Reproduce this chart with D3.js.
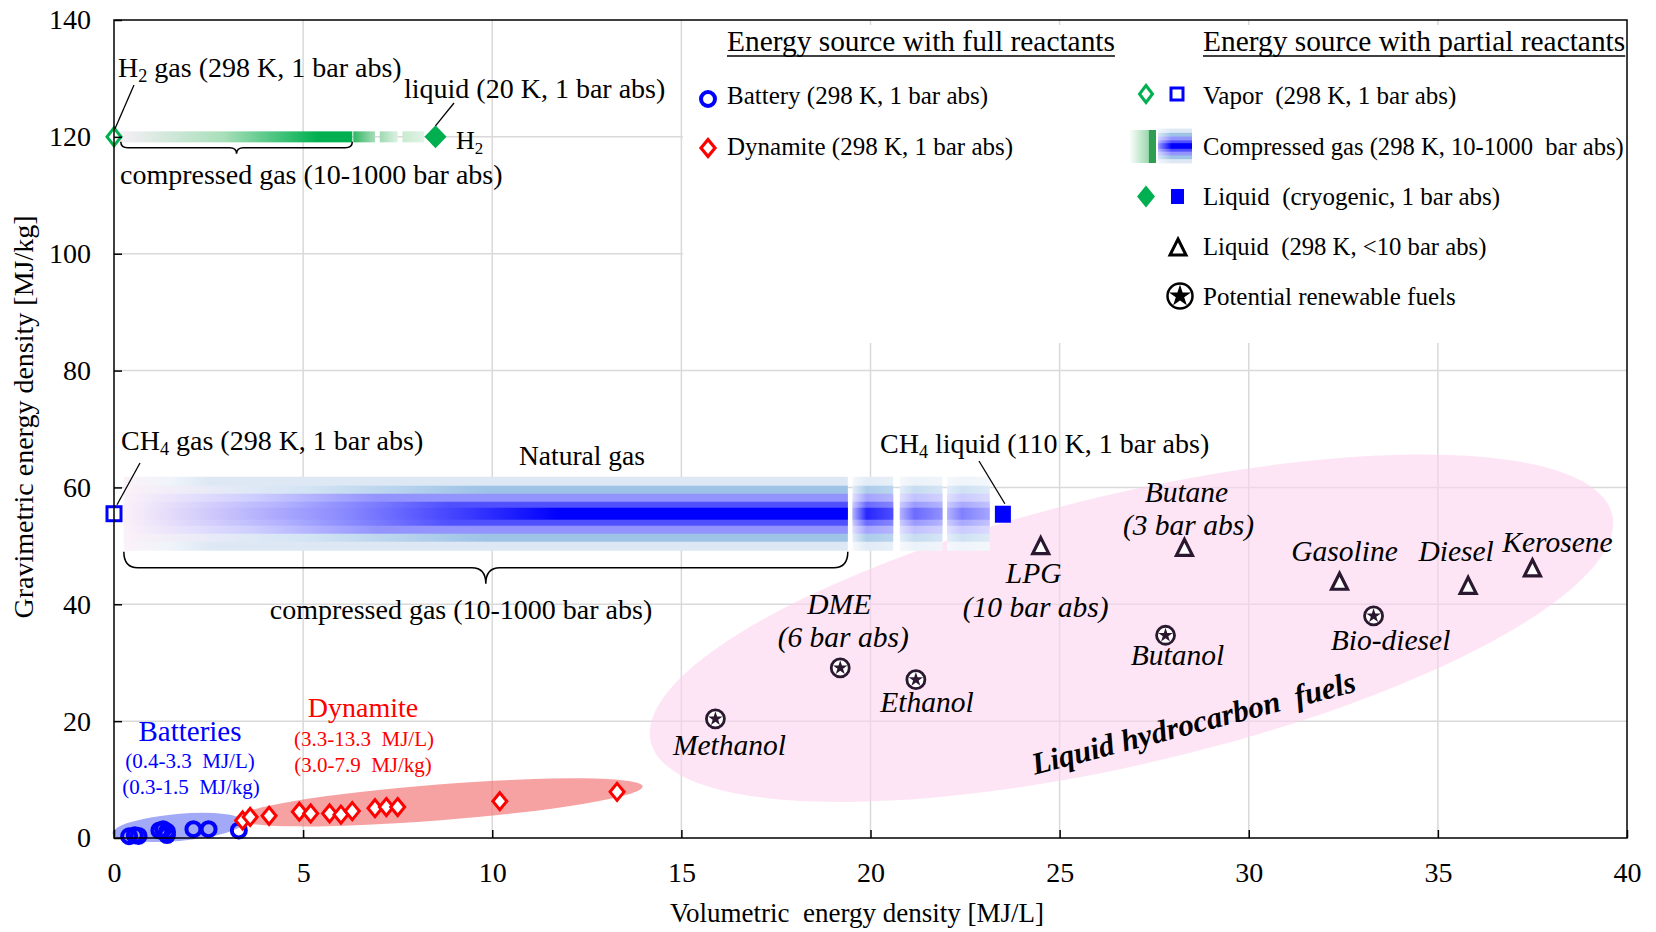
<!DOCTYPE html>
<html>
<head>
<meta charset="utf-8">
<script src="https://cdn.jsdelivr.net/npm/d3@7"></script>
<style>
  body { margin: 0; background: #fff; }
  svg text { font-family: "Liberation Serif", "Times New Roman", serif; white-space: pre; }
</style>
</head>
<body>
<svg width="1656" height="932"></svg>
<script>
// ---- data ----
const xTicks = [0, 5, 10, 15, 20, 25, 30, 35, 40];
const yTicks = [0, 20, 40, 60, 80, 100, 120, 140];

// batteries [MJ/L, MJ/kg]
const batteries = [[0.4, 0.3], [0.55, 0.45], [0.65, 0.35], [1.2, 1.3], [1.3, 1.5], [1.4, 1.1], [1.4, 0.5], [2.1, 1.5], [2.5, 1.5], [3.3, 1.3]];
// dynamite [MJ/L, MJ/kg]
const dynamite = [[3.4, 3.0], [3.6, 3.6], [4.1, 3.8], [4.9, 4.5], [5.2, 4.2], [5.7, 4.2], [6.0, 4.0], [6.3, 4.6], [6.9, 5.1], [7.2, 5.3], [7.5, 5.3], [10.2, 6.3], [13.3, 7.9]];

// liquids at 298 K (triangles)
const liquidNames = ['LPG', 'Butane', 'Gasoline', 'Diesel', 'Kerosene'];
const liquidX = [24.5, 28.3, 32.4, 35.8, 37.5];
const liquidY = [49.7, 49.4, 43.6, 42.9, 45.9];

// potential renewable fuels (circled stars)
const renewNames = ['Methanol', 'DME', 'Ethanol', 'Butanol', 'Bio-diesel'];
const renewX = [15.9, 19.2, 21.2, 27.8, 33.3];
const renewY = [20.4, 29.1, 27.1, 34.7, 38.0];

// hydrogen
const h2Vapor = [0, 120];
const h2Liquid = [8.5, 120];
const h2Compressed = [0.1, 6.3];
const h2Tail = [[6.3, 6.9], [7.0, 7.5], [7.6, 8.2]];

// methane
const ch4Vapor = [0, 55.5];
const ch4Liquid = [23.5, 55.5];
const ch4Compressed = [0.26, 19.4];
const ch4Tail = [[19.5, 20.6], [20.75, 21.9], [22.0, 23.15]];

function whenLoaded() {
const svg = d3.select('svg');
const defs = svg.append('defs');

const x = d3.scaleLinear().domain([0, 40]).range([114, 1627]);
const y = d3.scaleLinear().domain([0, 140]).range([838, 20]);

const GREEN = '#00b050', BLUE = '#0000ff', RED = '#ff0000', DARK = '#2a1830';

function grad(id, stops) {
  const g = defs.append('linearGradient').attr('id', id);
  stops.forEach(([o, c]) => g.append('stop').attr('offset', o).attr('stop-color', c));
  return `url(#${id})`;
}
const fade = (c, t) => d3.interpolateRgb(c, '#ffffff')(t);

// grid
const grid = svg.append('g').attr('stroke', '#d9d9d9').attr('stroke-width', 1.5);
grid.selectAll('.gx').data(xTicks.slice(1, -1)).enter().append('line')
  .attr('x1', d => x(d)).attr('x2', d => x(d)).attr('y1', y(140)).attr('y2', y(0));
grid.selectAll('.gy').data(yTicks.slice(1, -1)).enter().append('line')
  .attr('x1', x(0)).attr('x2', x(40)).attr('y1', d => y(d)).attr('y2', d => y(d));

// legend background
svg.append('rect').attr('x', 683).attr('y', 25).attr('width', 943).attr('height', 318).attr('fill', '#fff');

// clouds
svg.append('ellipse')
  .attr('transform', `translate(${x(26.9)},${y(35.9)}) rotate(-13.3)`)
  .attr('rx', 494).attr('ry', 135)
  .attr('fill', '#fcd3ee').attr('opacity', 0.6);
svg.append('ellipse')
  .attr('transform', `translate(${x(8.6)},${y(6.1)}) rotate(-4.5)`)
  .attr('rx', 204).attr('ry', 18)
  .attr('fill', '#f47a7a').attr('opacity', 0.7);
svg.append('ellipse')
  .attr('transform', `translate(${x(1.7)},${y(1.8)}) rotate(-5)`)
  .attr('rx', 66).attr('ry', 13.5)
  .attr('fill', '#7b84f2').attr('opacity', 0.7);

// ---- H2 bar ----
const h2y = y(h2Vapor[1]);
svg.append('rect')
  .attr('x', x(h2Compressed[0])).attr('width', x(h2Compressed[1]) - x(h2Compressed[0]))
  .attr('y', h2y - 5.5).attr('height', 11)
  .attr('fill', grad('h2main', [[0, '#f8f0f8'], [0.45, '#a8dfba'], [0.85, GREEN], [1, GREEN]]));
const h2TailCols = [['#30b865', '#a9dcb9'], ['#9fd9b2', '#dcf1e3'], ['#c9eacf', '#e2f3e7']];
h2Tail.forEach((s, i) => {
  svg.append('rect')
    .attr('x', x(s[0]) + 1).attr('width', x(s[1]) - x(s[0]) - 1)
    .attr('y', h2y - 5.5).attr('height', 11)
    .attr('fill', grad('h2t' + i, [[0, h2TailCols[i][0]], [1, h2TailCols[i][1]]]));
});

// ---- CH4 bar ----
const ch4y = y(ch4Vapor[1]);
const bands = [
  {h: 37, c: '#dde8f4', p: 0.12},
  {h: 28, c: '#9dc3e6', p: 0.5},
  {h: 20, c: '#9494ff', p: 0.35},
  {h: 12, c: '#5050ff', p: 0.45},
  {h: 6, c: BLUE, p: 0.6}
];
bands.forEach((b, j) => {
  svg.append('rect')
    .attr('x', x(ch4Compressed[0])).attr('width', x(ch4Compressed[1]) - x(ch4Compressed[0]))
    .attr('y', ch4y - b.h).attr('height', 2 * b.h)
    .attr('fill', grad('ch4b' + j, [[0, '#fbf1f9'], [b.p * 0.5, fade(b.c, 0.55)], [b.p, b.c], [1, b.c]]));
});
const tailFade = [0.15, 0.42, 0.5];
ch4Tail.forEach((s, i) => {
  bands.forEach((b, j) => {
    svg.append('rect')
      .attr('x', x(s[0]) + 1).attr('width', x(s[1]) - x(s[0]) - 1)
      .attr('y', ch4y - b.h).attr('height', 2 * b.h)
      .attr('fill', grad(`ch4t${i}_${j}`, [[0, fade(b.c, 0.7)], [0.35, fade(b.c, tailFade[i])], [1, fade(b.c, tailFade[i] + 0.15)]]));
  });
});

// braces
function brace(x1, x2, y0, h, q) {
  const xm = (x1 + x2) / 2;
  return `M${x1},${y0} Q${x1},${y0 + h} ${x1 + q},${y0 + h} L${xm - q},${y0 + h} Q${xm},${y0 + h} ${xm},${y0 + 2 * h}` +
    ` Q${xm},${y0 + h} ${xm + q},${y0 + h} L${x2 - q},${y0 + h} Q${x2},${y0 + h} ${x2},${y0}`;
}
svg.append('path').attr('d', brace(x(0.18), x(6.3), h2y + 5, 6, 7))
  .attr('fill', 'none').attr('stroke', '#000').attr('stroke-width', 1.5);
svg.append('path').attr('d', brace(x(0.26), x(19.4), ch4y + 38, 16, 14))
  .attr('fill', 'none').attr('stroke', '#000').attr('stroke-width', 1.5);

// ---- marker shapes ----
const diamond = (w, h) => `M0,${-h} L${w},0 L0,${h} L${-w},0 Z`;
const triangle = 'M0,-10 L8,6 L-8,6 Z';

function renewMarker(g, r, sw) {
  g.append('circle').attr('r', r).attr('fill', '#fff').attr('stroke', DARK).attr('stroke-width', sw);
  g.append('path').attr('d', d3.symbol().type(d3.symbolStar).size(r * r * 0.8)()).attr('fill', DARK);
}

// batteries
svg.append('g').selectAll('circle').data(batteries).enter().append('circle')
  .attr('cx', d => x(d[0])).attr('cy', d => y(d[1])).attr('r', 7)
  .attr('fill', 'none').attr('stroke', BLUE).attr('stroke-width', 4);

// dynamite
svg.append('g').selectAll('path').data(dynamite).enter().append('path')
  .attr('transform', d => `translate(${x(d[0])},${y(d[1])})`)
  .attr('d', diamond(7, 8.5))
  .attr('fill', '#fff').attr('stroke', RED).attr('stroke-width', 3);

// H2 markers
svg.append('path').attr('transform', `translate(${x(h2Vapor[0])},${y(h2Vapor[1])})`)
  .attr('d', diamond(7, 9)).attr('fill', '#fff').attr('stroke', GREEN).attr('stroke-width', 3);
svg.append('path').attr('transform', `translate(${x(h2Liquid[0])},${y(h2Liquid[1])})`)
  .attr('d', diamond(11, 11.5)).attr('fill', GREEN);

// CH4 markers
svg.append('rect').attr('x', x(ch4Vapor[0]) - 7).attr('y', y(ch4Vapor[1]) - 7).attr('width', 14).attr('height', 14)
  .attr('fill', '#fff').attr('stroke', BLUE).attr('stroke-width', 3);
svg.append('rect').attr('x', x(ch4Liquid[0]) - 8).attr('y', y(ch4Liquid[1]) - 8).attr('width', 16).attr('height', 17)
  .attr('fill', BLUE);

// liquid fuels
liquidNames.forEach((n, i) => {
  svg.append('path').attr('transform', `translate(${x(liquidX[i])},${y(liquidY[i])})`)
    .attr('d', triangle).attr('fill', '#fff').attr('stroke', DARK).attr('stroke-width', 3.2);
});
renewNames.forEach((n, i) => {
  renewMarker(svg.append('g').attr('transform', `translate(${x(renewX[i])},${y(renewY[i])})`), 9, 2.8);
});

// ---- text ----
function label(px, py, txt, opt = {}) {
  const t = svg.append('text').attr('x', px).attr('y', py)
    .attr('font-size', opt.size || 27)
    .attr('text-anchor', opt.anchor || 'start')
    .attr('fill', opt.color || '#000');
  if (opt.italic) t.attr('font-style', 'italic');
  if (opt.bold) t.attr('font-weight', 'bold');
  if (opt.sub) {
    t.append('tspan').text(txt[0]);
    t.append('tspan').attr('font-size', (opt.size || 27) * 0.65).attr('dy', 5).text(txt[1]);
    t.append('tspan').attr('dy', -5).text(txt[2]);
  } else t.text(txt);
  return t;
}

// H2 annotations
label(118, 77, ['H', '2', ' gas (298 K, 1 bar abs)'], {size: 28, sub: true});
label(404, 98, 'liquid (20 K, 1 bar abs)', {size: 28});
label(456, 149, ['H', '2', ''], {size: 26, sub: true});
label(120, 184, 'compressed gas (10-1000 bar abs)', {size: 28});
svg.append('line').attr('x1', 134).attr('y1', 85).attr('x2', x(h2Vapor[0]) + 1).attr('y2', y(h2Vapor[1]) - 8)
  .attr('stroke', '#000').attr('stroke-width', 1.3);
svg.append('line').attr('x1', 454).attr('y1', 103).attr('x2', x(h2Liquid[0])).attr('y2', y(h2Liquid[1]) - 11)
  .attr('stroke', '#000').attr('stroke-width', 1.3);

// CH4 annotations
label(121, 450, ['CH', '4', ' gas (298 K, 1 bar abs)'], {size: 28, sub: true});
label(582, 465, 'Natural gas', {size: 27.5, anchor: 'middle'});
label(461, 619, 'compressed gas (10-1000 bar abs)', {size: 28, anchor: 'middle'});
label(880, 453, ['CH', '4', ' liquid (110 K, 1 bar abs)'], {size: 28, sub: true});
svg.append('line').attr('x1', 140).attr('y1', 463).attr('x2', x(ch4Vapor[0]) + 3).attr('y2', y(ch4Vapor[1]) - 9)
  .attr('stroke', '#000').attr('stroke-width', 1.3);
svg.append('line').attr('x1', 979).attr('y1', 461).attr('x2', x(ch4Liquid[0]) + 2).attr('y2', y(ch4Liquid[1]) - 10)
  .attr('stroke', '#000').attr('stroke-width', 1.3);

// batteries / dynamite labels
label(190, 741, 'Batteries', {size: 29, anchor: 'middle', color: BLUE});
label(190, 768, '(0.4-3.3  MJ/L)', {size: 21, anchor: 'middle', color: BLUE});
label(191, 794, '(0.3-1.5  MJ/kg)', {size: 21, anchor: 'middle', color: BLUE});
label(363, 717, 'Dynamite', {size: 28, anchor: 'middle', color: RED});
label(364, 746, '(3.3-13.3  MJ/L)', {size: 21, anchor: 'middle', color: RED});
label(363, 772, '(3.0-7.9  MJ/kg)', {size: 21, anchor: 'middle', color: RED});

// fuel labels: offsets from the marker in px
const fuelLabelOffsets = {
  'LPG': [[-7, 35, 'LPG'], [-5, 69, '(10 bar abs)']],
  'Butane': [[2, -47, 'Butane'], [4, -14, '(3 bar abs)']],
  'Gasoline': [[5, -22, 'Gasoline']],
  'Diesel': [[-12, -26, 'Diesel']],
  'Kerosene': [[25, -18, 'Kerosene']],
  'Methanol': [[14, 36, 'Methanol']],
  'DME': [[-1, -54, 'DME'], [3, -21, '(6 bar abs)']],
  'Ethanol': [[11, 32, 'Ethanol']],
  'Butanol': [[12, 30, 'Butanol']],
  'Bio-diesel': [[17, 34, 'Bio-diesel']]
};
liquidNames.forEach((n, i) => fuelLabelOffsets[n].forEach(o =>
  label(x(liquidX[i]) + o[0], y(liquidY[i]) + o[1], o[2], {size: 29.5, italic: true, anchor: 'middle'})));
renewNames.forEach((n, i) => fuelLabelOffsets[n].forEach(o =>
  label(x(renewX[i]) + o[0], y(renewY[i]) + o[1], o[2], {size: 29.5, italic: true, anchor: 'middle'})));

svg.append('text').attr('transform', 'translate(1196,733) rotate(-14.5)')
  .attr('text-anchor', 'middle').attr('font-size', 31).attr('font-weight', 'bold').attr('font-style', 'italic')
  .text('Liquid hydrocarbon  fuels');

// ---- legend ----
function header(px, txt) {
  const t = label(px, 51, txt, {size: 29.4});
  const w = t.node().getComputedTextLength();
  svg.append('line').attr('x1', px).attr('x2', px + w).attr('y1', 56).attr('y2', 56)
    .attr('stroke', '#000').attr('stroke-width', 1.5);
}
header(727, 'Energy source with full reactants');
header(1203, 'Energy source with partial reactants');

svg.append('circle').attr('cx', 708).attr('cy', 99).attr('r', 7)
  .attr('fill', 'none').attr('stroke', BLUE).attr('stroke-width', 4);
label(727, 104, 'Battery (298 K, 1 bar abs)', {size: 25});
svg.append('path').attr('transform', 'translate(708,148)').attr('d', diamond(7, 8.5))
  .attr('fill', '#fff').attr('stroke', RED).attr('stroke-width', 3.2);
label(727, 155, 'Dynamite (298 K, 1 bar abs)', {size: 25});

svg.append('path').attr('transform', 'translate(1146,94)').attr('d', diamond(6.5, 8.5))
  .attr('fill', '#fff').attr('stroke', GREEN).attr('stroke-width', 3);
svg.append('rect').attr('x', 1171).attr('y', 88).attr('width', 12).attr('height', 12)
  .attr('fill', '#fff').attr('stroke', BLUE).attr('stroke-width', 3);
label(1203, 104, 'Vapor  (298 K, 1 bar abs)', {size: 25});

svg.append('rect').attr('x', 1129).attr('y', 130).attr('width', 27).attr('height', 33)
  .attr('fill', grad('lgGreen', [[0, '#ffffff'], [0.72, '#9dd8b0'], [0.74, '#2f9e52'], [1, '#2f9e52']]));
bands.forEach((b, j) => {
  svg.append('rect').attr('x', 1158).attr('width', 34)
    .attr('y', 146 - b.h * 0.47).attr('height', b.h * 0.94)
    .attr('fill', grad('lgb' + j, [[0, fade(b.c, 0.6)], [0.4, b.c], [1, b.c]]));
});
label(1203, 155, 'Compressed gas (298 K, 10-1000  bar abs)', {size: 24.6});

svg.append('path').attr('transform', 'translate(1146,196.5)').attr('d', diamond(9, 11)).attr('fill', GREEN);
svg.append('rect').attr('x', 1171).attr('y', 189).attr('width', 13).attr('height', 15).attr('fill', BLUE);
label(1203, 205, 'Liquid  (cryogenic, 1 bar abs)', {size: 25});

svg.append('path').attr('transform', 'translate(1178,249)').attr('d', triangle)
  .attr('fill', '#fff').attr('stroke', '#000').attr('stroke-width', 3);
label(1203, 255, 'Liquid  (298 K, <10 bar abs)', {size: 24.7});

const lgStar = svg.append('g').attr('transform', 'translate(1180,296)');
lgStar.append('circle').attr('r', 12.5).attr('fill', '#fff').attr('stroke', '#000').attr('stroke-width', 2.5);
lgStar.append('path').attr('d', d3.symbol().type(d3.symbolStar).size(150)()).attr('fill', '#000');
label(1203, 305, 'Potential renewable fuels', {size: 25});

// ---- axes ----
svg.append('rect').attr('x', x(0)).attr('y', y(140)).attr('width', x(40) - x(0)).attr('height', y(0) - y(140))
  .attr('fill', 'none').attr('stroke', '#000').attr('stroke-width', 1.5);

const xAxis = svg.append('g').attr('transform', `translate(0,${y(0)})`)
  .call(d3.axisBottom(x).tickValues(xTicks).tickFormat(d3.format('d')).tickSize(-8).tickSizeOuter(0).tickPadding(24));
const yAxis = svg.append('g').attr('transform', `translate(${x(0)},0)`)
  .call(d3.axisLeft(y).tickValues(yTicks).tickFormat(d3.format('d')).tickSize(-8).tickSizeOuter(0).tickPadding(23));
[xAxis, yAxis].forEach(a => {
  a.select('.domain').remove();
  a.selectAll('line').attr('stroke', '#000').attr('stroke-width', 1.5);
  a.selectAll('text').attr('font-size', 28).attr('fill', '#000')
    .attr('font-family', '"Liberation Serif", "Times New Roman", serif');
});

label(857, 922, 'Volumetric  energy density [MJ/L]', {size: 27, anchor: 'middle'});
svg.append('text').attr('transform', 'translate(33,417) rotate(-90)')
  .attr('text-anchor', 'middle').attr('font-size', 28)
  .text('Gravimetric energy density [MJ/kg]');
}

window.onload = whenLoaded;
</script>
</body>
</html>
